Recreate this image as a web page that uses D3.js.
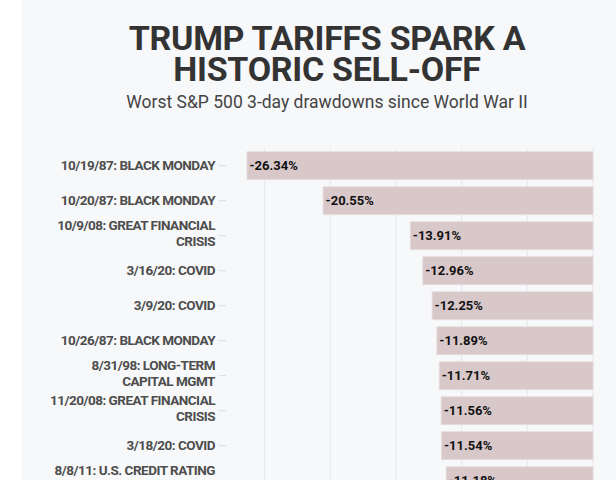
<!DOCTYPE html>
<html lang="en">
<head>
    <meta charset="UTF-8">
    <title>Trump tariffs spark a historic sell-off</title>
    <script src="https://d3js.org/d3.v7.min.js"></script>
    <style>
        body { margin: 0; background: #fff; }
        svg { display: block; font-family: Roboto, sans-serif; }
    </style>
</head>
<body>
    <script>
        // worst 3-day drawdowns, top of the list (the rest is below the fold)
        const events = [
            "10/19/87: BLACK MONDAY",
            "10/20/87: BLACK MONDAY",
            "10/9/08: GREAT FINANCIAL\nCRISIS",
            "3/16/20: COVID",
            "3/9/20: COVID",
            "10/26/87: BLACK MONDAY",
            "8/31/98: LONG-TERM\nCAPITAL MGMT",
            "11/20/08: GREAT FINANCIAL\nCRISIS",
            "3/18/20: COVID",
            "8/8/11: U.S. CREDIT RATING\nDOWNGRADE"
        ];
        const drawdowns = [-26.34, -20.55, -13.91, -12.96, -12.25, -11.89, -11.71, -11.56, -11.54, -11.18];

        const title = ["TRUMP TARIFFS SPARK A", "HISTORIC SELL-OFF"];
        const subtitle = "Worst S&P 500 3-day drawdowns since World War II";

        const data = events.map((e, i) => ({ event: e, value: drawdowns[i] }));

        const width = 616, height = 480;
        const svg = d3.select("body").append("svg")
            .attr("width", width)
            .attr("height", height);

        // light panel behind the graphic
        svg.append("rect")
            .attr("x", 22).attr("y", 0)
            .attr("width", width - 22).attr("height", height)
            .attr("fill", "#f7f8fa");

        const cx = 327;
        svg.selectAll(".title")
            .data(title)
            .enter().append("text")
            .attr("class", "title")
            .attr("x", cx)
            .attr("y", (d, i) => 49.5 + i * 31)
            .attr("text-anchor", "middle")
            .style("font-size", "34px")
            .style("font-weight", 700)
            .style("letter-spacing", "-0.3px")
            .style("fill", "#333")
            .text(d => d);

        svg.append("text")
            .attr("x", cx)
            .attr("y", 107.7)
            .attr("text-anchor", "middle")
            .style("font-size", "17.5px")
            .style("fill", "#444")
            .text(subtitle);

        const step = 35;
        const chartTop = 148.2;
        const x = d3.scaleLinear()
            .domain([d3.min(drawdowns), 0])
            .range([247, 593]);

        const y = d3.scaleBand()
            .domain(events)
            .range([chartTop, chartTop + step * 10])
            .paddingInner(0.2)
            .paddingOuter(0.1);

        // vertical gridlines
        svg.append("g")
            .selectAll("line")
            .data(x.ticks(5))
            .enter().append("line")
            .attr("x1", d => x(d)).attr("x2", d => x(d))
            .attr("y1", chartTop).attr("y2", height)
            .attr("stroke", "#e6e7ea")
            .attr("stroke-width", 1);

        // bars run from zero out to the drawdown
        svg.append("g")
            .selectAll("rect")
            .data(data)
            .enter().append("rect")
            .attr("x", d => x(d.value))
            .attr("y", d => y(d.event))
            .attr("width", d => x(0) - x(d.value))
            .attr("height", y.bandwidth())
            .attr("fill", "#d8c8c9")
            .attr("stroke", "#e8dddd")
            .attr("stroke-width", 0.8);

        svg.append("g")
            .selectAll("text")
            .data(data)
            .enter().append("text")
            .attr("x", d => x(d.value) + 2.5)
            .attr("y", d => y(d.event) + y.bandwidth() / 2)
            .attr("dy", "0.35em")
            .style("font-size", "13px")
            .style("font-weight", 700)
            .style("fill", "#111")
            .text(d => d.value.toFixed(2) + "%");

        // category axis on the left
        const yAxis = svg.append("g")
            .attr("transform", "translate(226,0)")
            .call(d3.axisLeft(y).tickSize(7).tickPadding(4));

        yAxis.select(".domain").remove();
        yAxis.selectAll(".tick line").attr("stroke", "#dcdcdf");
        yAxis.selectAll(".tick text")
            .style("font-family", "Roboto, sans-serif")
            .style("font-size", "13.5px")
            .style("font-weight", 700)
            .style("letter-spacing", "-0.5px")
            .style("fill", "#4d4d4d")
            .each(function(d) {
                const lines = d.split("\n");
                const t = d3.select(this).text(null).attr("dy", null);
                const n = lines.length;
                lines.forEach((line, i) => {
                    const off = n > 1 ? (i - (n - 1) / 2) * 15.5 - 2.5 : 0;
                    t.append("tspan")
                        .attr("x", -11)
                        .attr("y", off)
                        .attr("dy", "0.35em")
                        .text(line);
                });
            });
    </script>
</body>
</html>
